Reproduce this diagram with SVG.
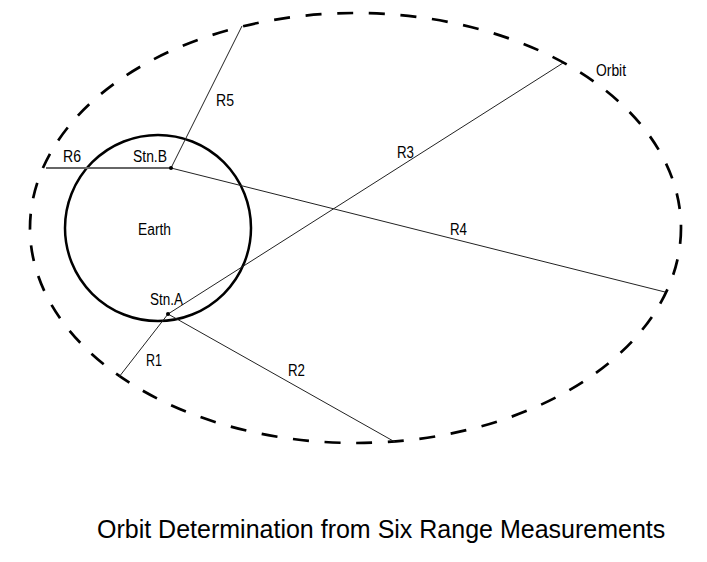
<svg xmlns="http://www.w3.org/2000/svg" width="707" height="562" viewBox="0 0 707 562">
<style>
.lbl{font-family:"Liberation Sans",Arial,sans-serif;font-size:16px;fill:#000}
.title{font-family:"Liberation Sans",Arial,sans-serif;font-size:25px;fill:#000}
.ray{stroke:#222;stroke-width:1;fill:none}
</style>
<rect width="707" height="562" fill="#fff"/>
<g id="orbit">
<ellipse cx="355.5" cy="228" rx="325.5" ry="215" fill="none" stroke="#000" stroke-width="2.7" stroke-dasharray="16 15.7"/>
<text class="lbl" x="596" y="76" textLength="30" lengthAdjust="spacingAndGlyphs">Orbit</text>
</g>
<g id="earth">
<circle cx="158" cy="228" r="93" fill="none" stroke="#000" stroke-width="2.5"/>
<text class="lbl" x="138" y="235" textLength="33" lengthAdjust="spacingAndGlyphs">Earth</text>
</g>
<g id="connectors">
<line x1="46" y1="168" x2="171" y2="168" stroke="#666" stroke-width="2"/>
<line class="ray" x1="171" y1="168" x2="242" y2="26"/>
<line class="ray" x1="171" y1="168" x2="665" y2="292"/>
<line class="ray" x1="168" y1="314" x2="563" y2="63"/>
<line class="ray" x1="168" y1="314" x2="119" y2="377"/>
<line class="ray" x1="168" y1="314" x2="395" y2="442"/>
<text class="lbl" x="63" y="162" textLength="18" lengthAdjust="spacingAndGlyphs">R6</text>
<text class="lbl" x="216" y="106" textLength="18" lengthAdjust="spacingAndGlyphs">R5</text>
<text class="lbl" x="450" y="235" textLength="17" lengthAdjust="spacingAndGlyphs">R4</text>
<text class="lbl" x="397" y="158" textLength="17" lengthAdjust="spacingAndGlyphs">R3</text>
<text class="lbl" x="146" y="366" textLength="16" lengthAdjust="spacingAndGlyphs">R1</text>
<text class="lbl" x="288" y="376" textLength="17" lengthAdjust="spacingAndGlyphs">R2</text>
</g>
<g id="stnB">
<circle cx="171" cy="168" r="2" fill="#000"/>
<text class="lbl" x="133" y="162" textLength="34" lengthAdjust="spacingAndGlyphs">Stn.B</text>
</g>
<g id="stnA">
<circle cx="168" cy="314" r="2" fill="#000"/>
<text class="lbl" x="150" y="305" textLength="33" lengthAdjust="spacingAndGlyphs">Stn.A</text>
</g>
<text class="title" x="97" y="538">Orbit Determination from Six Range Measurements</text>
</svg>
